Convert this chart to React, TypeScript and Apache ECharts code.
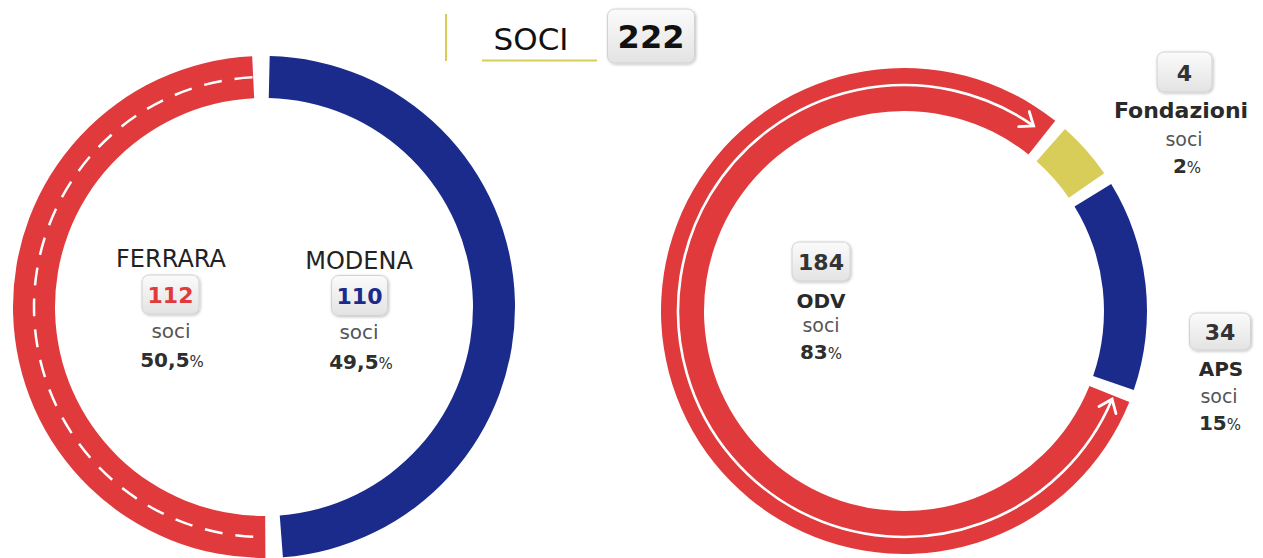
import React, { useEffect, useRef } from 'react';
import * as echarts from 'echarts';

// ---- data ----
const titleText = 'SOCI';
const totalMembers = 222;
const unitText = 'soci';
const cityNames = ['MODENA', 'FERRARA'];
const cityMembers = [110, 112];
const cityShares = ['49,5', '50,5'];
const typeNames = ['Fondazioni', 'APS', 'ODV'];
const typeMembers = [4, 34, 184];
const typeShares = ['2', '15', '83'];

// ---- style ----
const RED = '#E03A3C';
const BLUE = '#1B2B8C';
const YELLOW = '#D9CD5A';
const FONT = '"DejaVu Sans", sans-serif';

const LEFT = { cx: 264, cy: 307, r0: 209, r1: 251, start: -0.7, pad: 4, minA: 0 };
const RIGHT = { cx: 904, cy: 311, r0: 200, r1: 243, start: 40, pad: 3, minA: 14 };

// replicate ECharts pie layout (degrees clockwise from top) to place decorations
function spans(values: number[], start: number, minA: number, pad: number) {
  const sum = values.reduce((a, b) => a + b, 0);
  let rest = 360;
  let bigSum = 0;
  values.forEach((v) => {
    const a = (v / sum) * 360;
    if (a < minA) rest -= minA;
    else bigSum += v;
  });
  const out: { s: number; e: number }[] = [];
  let cur = start;
  values.forEach((v) => {
    let a = (v / sum) * 360;
    if (a < minA) a = minA;
    else a = (v / bigSum) * rest;
    out.push({ s: cur + pad / 2, e: cur + a - pad / 2 });
    cur += a;
  });
  return out;
}

const rad = (d: number) => (d * Math.PI) / 180;
const pt = (cx: number, cy: number, r: number, d: number) => [cx + r * Math.sin(rad(d)), cy - r * Math.cos(rad(d))];

function boxEls(cx: number, cy: number, w: number, h: number, text: string, color: string, size: number) {
  return [
    {
      type: 'rect',
      z: 100,
      shape: { x: cx - w / 2, y: cy - h / 2, width: w, height: h, r: 7 },
      style: {
        fill: {
          type: 'linear', x: 0, y: 0, x2: 0, y2: 1,
          colorStops: [{ offset: 0, color: '#fbfbfb' }, { offset: 1, color: '#e3e3e3' }],
        },
        stroke: '#d2d2d2',
        lineWidth: 1,
        shadowBlur: 3,
        shadowColor: 'rgba(0,0,0,0.25)',
        shadowOffsetX: 1,
        shadowOffsetY: 1,
      },
    },
    {
      type: 'text',
      z: 101,
      x: cx,
      y: cy + 1,
      style: { text, fill: color, fontFamily: FONT, fontWeight: 'bold', fontSize: size, align: 'center', verticalAlign: 'middle' },
    },
  ];
}

function txt(x: number, y: number, text: string, size: number, weight: string, color: string) {
  return {
    type: 'text', z: 100, x, y,
    style: { text, fill: color, fontFamily: FONT, fontWeight: weight, fontSize: size, align: 'center', verticalAlign: 'middle' },
  };
}

function pct(x: number, y: number, value: string, size: number) {
  return {
    type: 'text', z: 100, x, y,
    style: {
      text: `{b|${value}}{p|%}`,
      align: 'center', verticalAlign: 'middle',
      rich: {
        b: { fontFamily: FONT, fontWeight: 'bold', fontSize: size, fill: '#2e2e2e', color: '#2e2e2e' },
        p: { fontFamily: FONT, fontWeight: 'normal', fontSize: size - 5, fill: '#2e2e2e', color: '#2e2e2e', padding: [3, 0, 0, 0] },
      },
    },
  };
}

function arrowHead(tip: number[], dir: number[], len: number) {
  const ang = rad(38);
  const back = [-dir[0], -dir[1]];
  const rot = (v: number[], a: number) => [v[0] * Math.cos(a) - v[1] * Math.sin(a), v[0] * Math.sin(a) + v[1] * Math.cos(a)];
  const a1 = rot(back, ang);
  const a2 = rot(back, -ang);
  return {
    type: 'polyline', z: 100,
    shape: { points: [[tip[0] + a1[0] * len, tip[1] + a1[1] * len], tip, [tip[0] + a2[0] * len, tip[1] + a2[1] * len]] },
    style: { stroke: '#fff', lineWidth: 2.8, fill: null, lineCap: 'round', lineJoin: 'miter' },
  };
}

export default function App() {
  const ref = useRef<HTMLDivElement>(null);
  useEffect(() => {
    if (!ref.current) return;
    const chart = echarts.init(ref.current, null, { renderer: 'svg' });

    const cityColors = [BLUE, RED];
    const typeColors = [YELLOW, BLUE, RED];

    const ls = spans(cityMembers, LEFT.start, LEFT.minA, LEFT.pad);
    const rs = spans(typeMembers, RIGHT.start, RIGHT.minA, RIGHT.pad);

    // dashed line along FERRARA arc
    const redL = ls[1];
    const rMidL = (LEFT.r0 + LEFT.r1) / 2;
    const dashed = {
      type: 'arc', z: 90,
      shape: { cx: LEFT.cx, cy: LEFT.cy, r: rMidL, startAngle: rad(redL.s + 3 - 90), endAngle: rad(redL.e - 90), clockwise: true },
      style: { stroke: '#fff', lineWidth: 2.5, lineDash: [18, 13], fill: null },
    };

    // double arrow along ODV arc
    const redR = rs[2];
    const rLine = RIGHT.r1 - 17;
    const aS = redR.s + 3.5;
    const aE = redR.e - 3.5;
    const arrowArc = {
      type: 'arc', z: 90,
      shape: { cx: RIGHT.cx, cy: RIGHT.cy, r: rLine, startAngle: rad(aS - 90), endAngle: rad(aE - 90), clockwise: true },
      style: { stroke: '#fff', lineWidth: 2.6, fill: null },
    };
    const tipE = pt(RIGHT.cx, RIGHT.cy, rLine, aE);
    const dirE = [Math.cos(rad(aE)), Math.sin(rad(aE))];
    const tipS = pt(RIGHT.cx, RIGHT.cy, rLine, aS);
    const dirS = [-Math.cos(rad(aS)), -Math.sin(rad(aS))];

    const ferrara = 1, modena = 0;
    const fond = 0, aps = 1, odv = 2;

    const graphics: any[] = [
      // title
      { type: 'line', shape: { x1: 446, y1: 14, x2: 446, y2: 61 }, style: { stroke: YELLOW, lineWidth: 2 } },
      { type: 'line', shape: { x1: 482, y1: 60.5, x2: 597, y2: 60.5 }, style: { stroke: YELLOW, lineWidth: 2 } },
      txt(531, 39, titleText, 31, 'normal', '#111'),
      ...boxEls(651, 36, 87, 54, String(totalMembers), '#111', 32),
      // left donut labels
      txt(171, 259, cityNames[ferrara], 24, 'normal', '#222'),
      ...boxEls(170.5, 294.5, 57, 39, String(cityMembers[ferrara]), RED, 22),
      txt(171, 331, unitText, 20, 'normal', '#555'),
      pct(172, 360, cityShares[ferrara], 20),
      txt(359, 261, cityNames[modena], 24, 'normal', '#222'),
      ...boxEls(359.5, 295.5, 56, 40, String(cityMembers[modena]), BLUE, 22),
      txt(359, 332, unitText, 20, 'normal', '#555'),
      pct(361, 362, cityShares[modena], 20),
      // right donut labels
      ...boxEls(821, 261.5, 58, 39, String(typeMembers[odv]), '#333', 22),
      txt(821, 301, typeNames[odv], 20, 'bold', '#2a2a2a'),
      txt(821, 325, unitText, 19, 'normal', '#555'),
      pct(821, 352, typeShares[odv], 20),
      ...boxEls(1184.5, 72, 55, 40, String(typeMembers[fond]), '#333', 22),
      txt(1181, 110, typeNames[fond], 22, 'bold', '#2a2a2a'),
      txt(1184, 139, unitText, 19, 'normal', '#555'),
      pct(1187, 166, typeShares[fond], 20),
      ...boxEls(1220, 331.5, 61, 37, String(typeMembers[aps]), '#333', 22),
      txt(1221, 369, typeNames[aps], 20, 'bold', '#2a2a2a'),
      txt(1219, 396, unitText, 19, 'normal', '#555'),
      pct(1220, 423, typeShares[aps], 20),
      // decorations
      dashed,
      arrowArc,
      arrowHead(tipE, dirE, 15),
      arrowHead(tipS, dirS, 15),
    ];

    chart.setOption({
      animation: false,
      backgroundColor: '#ffffff',
      series: [
        {
          type: 'pie',
          silent: true,
          center: [LEFT.cx, LEFT.cy],
          radius: [LEFT.r0, LEFT.r1],
          startAngle: 90 - LEFT.start,
          clockwise: true,
          padAngle: LEFT.pad,
          label: { show: false },
          labelLine: { show: false },
          data: cityNames.map((n, i) => ({ name: n, value: cityMembers[i], itemStyle: { color: cityColors[i] } })),
        },
        {
          type: 'pie',
          silent: true,
          center: [RIGHT.cx, RIGHT.cy],
          radius: [RIGHT.r0, RIGHT.r1],
          startAngle: 90 - RIGHT.start,
          clockwise: true,
          padAngle: RIGHT.pad,
          minAngle: RIGHT.minA,
          label: { show: false },
          labelLine: { show: false },
          data: typeNames.map((n, i) => ({ name: n, value: typeMembers[i], itemStyle: { color: typeColors[i] } })),
        },
      ],
      graphic: graphics,
    });
    return () => chart.dispose();
  }, []);
  return <div ref={ref} style={{ position: 'fixed', left: 0, top: 0, width: 1263, height: 558 }} />;
}
